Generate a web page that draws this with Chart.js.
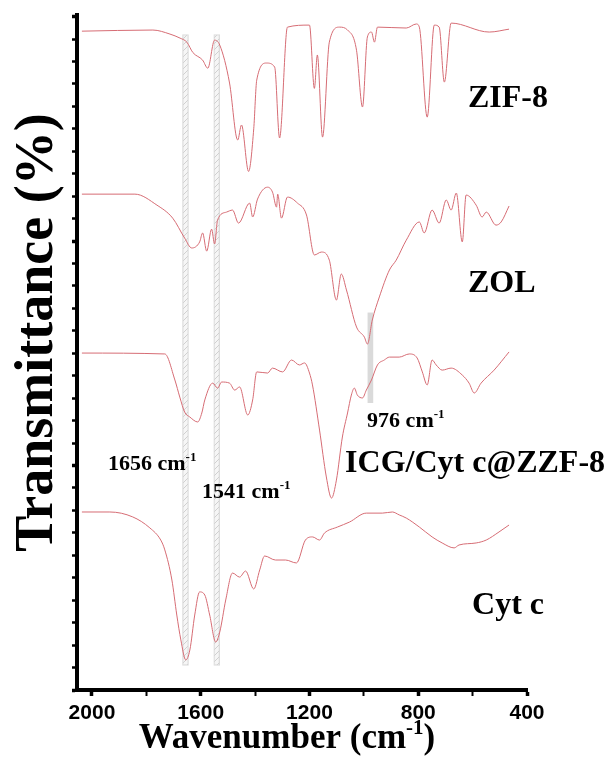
<!DOCTYPE html>
<html>
<head>
<meta charset="utf-8">
<script src="https://cdn.jsdelivr.net/npm/chart.js@4.4.0/dist/chart.umd.min.js"></script>
<style>
  html, body { margin: 0; padding: 0; background: #fff; }
  #wrap { width: 606px; height: 758px; }
</style>
</head>
<body>
<div id="wrap"><canvas id="ftirChart" width="606" height="758"></canvas></div>
<script>
// FTIR spectra, stacked (arbitrary transmittance units incl. offset)
const zifWn = [2037, 1776, 1713, 1676, 1651, 1629, 1593, 1574, 1549, 1530, 1494, 1464, 1450, 1424, 1405, 1394, 1358, 1328, 1310, 1281, 1200, 1182, 1171, 1152, 1127, 1090, 1060, 1027, 1005, 987, 972, 961, 950, 844, 807, 796, 767, 741, 723, 704, 679, 539, 466];
const zifT  = [29.35, 29.4, 29.22, 29.04, 28.86, 28.4, 28.06, 27.7, 28.95, 28.73, 27.04, 24.5, 25.17, 23.1, 25.0, 27.17, 27.93, 27.75, 24.59, 29.53, 29.62, 26.8, 28.29, 24.63, 28.86, 29.53, 29.4, 28.5, 25.97, 29.09, 29.31, 28.86, 29.53, 29.49, 29.67, 29.53, 25.52, 29.62, 29.53, 27.08, 29.71, 29.31, 29.44];

const zolWn = [2037, 1842, 1761, 1703, 1659, 1633, 1604, 1593, 1578, 1560, 1549, 1538, 1505, 1483, 1461, 1420, 1409, 1391, 1354, 1336, 1321, 1317, 1303, 1281, 1244, 1211, 1182, 1156, 1127, 1101, 1083, 1064, 1027, 998, 987, 969, 943, 906, 881, 844, 796, 778, 749, 723, 697, 679, 660, 638, 624, 587, 565, 550, 514, 495, 466];
const zolT  = [22.09, 22.09, 21.6, 21.02, 20.13, 19.69, 19.96, 20.36, 19.55, 20.53, 19.87, 20.94, 21.29, 21.38, 20.8, 21.69, 21.07, 21.87, 22.4, 22.18, 21.51, 22.09, 21.02, 21.96, 21.69, 21.16, 19.38, 19.51, 19.15, 17.37, 18.53, 17.82, 16.17, 15.72, 15.41, 16.48, 17.51, 18.71, 19.15, 20.04, 20.85, 20.36, 21.38, 20.8, 21.83, 21.38, 22.14, 19.96, 22.05, 21.6, 21.07, 21.29, 20.71, 20.85, 21.56];

const icgWn = [2037, 1732, 1695, 1677, 1659, 1640, 1611, 1596, 1585, 1556, 1538, 1523, 1494, 1475, 1457, 1427, 1409, 1394, 1354, 1336, 1299, 1266, 1237, 1218, 1200, 1189, 1163, 1138, 1119, 1101, 1079, 1060, 1046, 1035, 1024, 1005, 991, 972, 950, 925, 906, 870, 833, 804, 785, 767, 749, 734, 712, 679, 638, 613, 594, 569, 521, 466];
const icgT  = [15.01, 14.97, 13.81, 13.05, 12.38, 12.16, 11.94, 12.34, 12.92, 13.67, 13.45, 13.72, 13.67, 13.36, 13.5, 12.25, 12.92, 14.17, 14.12, 14.34, 14.17, 14.7, 14.48, 14.57, 14.12, 13.59, 11.58, 9.49, 8.55, 9.35, 11.27, 12.34, 13.14, 13.45, 13.14, 13.01, 13.36, 13.81, 14.48, 14.7, 14.83, 14.83, 14.97, 14.79, 14.17, 13.59, 14.7, 14.48, 14.25, 14.34, 14.03, 13.67, 13.23, 13.67, 14.25, 15.06];

const cytWn = [2037, 1934, 1850, 1787, 1747, 1732, 1706, 1688, 1673, 1655, 1640, 1622, 1604, 1585, 1567, 1545, 1530, 1508, 1483, 1457, 1435, 1405, 1383, 1365, 1325, 1288, 1248, 1215, 1189, 1163, 1145, 1097, 1053, 991, 932, 895, 870, 844, 796, 749, 712, 668, 650, 587, 550, 503, 466];
const cytT  = [7.93, 7.93, 7.71, 7.22, 6.68, 6.24, 4.9, 3.34, 2.23, 1.34, 1.78, 3.34, 4.37, 4.23, 3.34, 2.14, 2.58, 4.01, 5.21, 5.03, 5.3, 4.5, 5.35, 5.97, 5.79, 5.79, 5.66, 6.68, 6.82, 6.68, 6.99, 7.26, 7.48, 7.88, 7.88, 7.93, 7.8, 7.66, 7.26, 6.82, 6.55, 6.33, 6.46, 6.55, 6.68, 7.04, 7.35];

// marked bands
const bandWn = [1656, 1541];
const bandSpan = [1.1, 29.2];
const markWn = [976];
const markSpan = [12.8, 16.8];

// axis
const xLabelValues = [2000, 1600, 1200, 800, 400];
const seriesNames = ['ZIF-8', 'ZOL', 'ICG/Cyt c@ZZF-8', 'Cyt c'];
// label anchors [wavenumber, y] (left / baseline)
const nameAt = [[617, 25.97], [617, 17.73], [1069, 9.71], [602, 3.39]];
const peakText = ['1656', '1541', '976'];
const peakAt = [[1941, 9.8], [1595, 8.55], [988, 11.71]];

const lineColor = '#d66c74';
const serif = '"Liberation Serif", "Times New Roman", serif';

function hatch() {
  const c = document.createElement('canvas');
  c.width = 6; c.height = 6;
  const g = c.getContext('2d');
  g.fillStyle = 'rgba(240,240,240,0.6)';
  g.fillRect(0, 0, 6, 6);
  g.strokeStyle = '#d0d0d0';
  g.lineWidth = 1;
  g.beginPath();
  g.moveTo(0, 6); g.lineTo(6, 0);
  g.moveTo(-1, 1); g.lineTo(1, -1);
  g.moveTo(5, 7); g.lineTo(7, 5);
  g.stroke();
  return g.createPattern(c, 'repeat');
}

function toPoints(wn, t) {
  return wn.map((w, i) => ({ x: w, y: t[i] }));
}

function spectrum(wn, t) {
  return {
    type: 'line',
    data: toPoints(wn, t),
    borderColor: lineColor,
    borderWidth: 1,
    pointRadius: 0,
    cubicInterpolationMode: 'monotone',
    fill: false,
    order: 1
  };
}

// text with a superscript part
function drawSup(ctx, x, y, base, sup, tail, size, align) {
  const f1 = 'bold ' + size + 'px ' + serif;
  const f2 = 'bold ' + Math.round(size * 0.6) + 'px ' + serif;
  ctx.font = f1;
  const w1 = ctx.measureText(base).width;
  const w3 = ctx.measureText(tail).width;
  ctx.font = f2;
  const w2 = ctx.measureText(sup).width;
  let sx = align === 'center' ? x - (w1 + w2 + w3) / 2 : x;
  ctx.textAlign = 'left';
  ctx.textBaseline = 'alphabetic';
  ctx.font = f1;
  ctx.fillText(base, sx, y);
  ctx.font = f2;
  ctx.fillText(sup, sx + w1, y - size * 0.4);
  ctx.font = f1;
  ctx.fillText(tail, sx + w1 + w2, y);
}

const textPlugin = {
  id: 'ftirText',
  afterDraw(chart) {
    const ctx = chart.ctx;
    const xs = chart.scales.x, ys = chart.scales.y;
    const area = chart.chartArea;
    ctx.save();
    ctx.fillStyle = '#000';
    seriesNames.forEach((name, i) => {
      ctx.font = 'bold 32px ' + serif;
      ctx.textAlign = 'left';
      ctx.textBaseline = 'alphabetic';
      ctx.fillText(name, xs.getPixelForValue(nameAt[i][0]), ys.getPixelForValue(nameAt[i][1]));
    });
    peakText.forEach((p, i) => {
      drawSup(ctx, xs.getPixelForValue(peakAt[i][0]), ys.getPixelForValue(peakAt[i][1]), p + ' cm', '-1', '', 22, 'left');
    });
    // axis titles
    drawSup(ctx, area.left + 210, 748, 'Wavenumber (cm', '-1', ')', 35, 'center');
    ctx.translate(52, (area.top + area.bottom) / 2 - 20);
    ctx.rotate(-Math.PI / 2);
    ctx.font = 'bold 54px ' + serif;
    ctx.textAlign = 'center';
    ctx.textBaseline = 'alphabetic';
    ctx.fillText('Transmittance (%)', 0, 0);
    ctx.restore();
  }
};

const bandFill = hatch();

new Chart(document.getElementById('ftirChart'), {
  type: 'line',
  data: {
    datasets: [
      spectrum(zifWn, zifT),
      spectrum(zolWn, zolT),
      spectrum(icgWn, icgT),
      spectrum(cytWn, cytT),
      {
        type: 'bar',
        data: bandWn.map(w => ({ x: w, y: bandSpan })),
        backgroundColor: bandFill,
        borderColor: '#dcdcdc',
        borderWidth: 1,
        borderSkipped: false,
        barThickness: 6,
        grouped: false,
        order: 2
      },
      {
        type: 'bar',
        data: markWn.map(w => ({ x: w, y: markSpan })),
        backgroundColor: '#dadada',
        borderWidth: 0,
        barThickness: 5,
        grouped: false,
        order: 2
      }
    ]
  },
  options: {
    responsive: false,
    animation: false,
    devicePixelRatio: 1,
    layout: { padding: { top: 15, right: 79, left: 0, bottom: 0 } },
    plugins: { legend: { display: false }, tooltip: { enabled: false } },
    scales: {
      x: {
        type: 'linear',
        reverse: true,
        min: 400,
        max: 2055,
        offset: false,
        grid: {
          offset: false,
          drawOnChartArea: false,
          tickLength: 6,
          tickColor: '#000',
          tickWidth: (c) => (c.tick && c.tick.value % 400 === 0 ? 3.5 : 2)
        },
        border: { width: 4, color: '#000' },
        ticks: {
          stepSize: 200,
          includeBounds: false,
          autoSkip: false,
          maxRotation: 0,
          padding: 5,
          color: '#000',
          font: { family: '"Liberation Sans", Arial, sans-serif', weight: 'bold', size: 21 },
          callback: (v) => (xLabelValues.includes(v) ? String(v) : '')
        },
        afterFit: (s) => { s.height = 68; }
      },
      y: {
        type: 'linear',
        min: 0,
        max: 30.07,
        grid: {
          drawOnChartArea: false,
          tickLength: 5,
          tickColor: '#000',
          tickWidth: (c) => (c.tick && c.tick.value % 10 === 0 ? 3.5 : 2.5)
        },
        border: { width: 4, color: '#000' },
        ticks: { stepSize: 1, includeBounds: false, display: false },
        afterFit: (s) => { s.width = 77; }
      }
    }
  },
  plugins: [textPlugin]
});
</script>
</body>
</html>
